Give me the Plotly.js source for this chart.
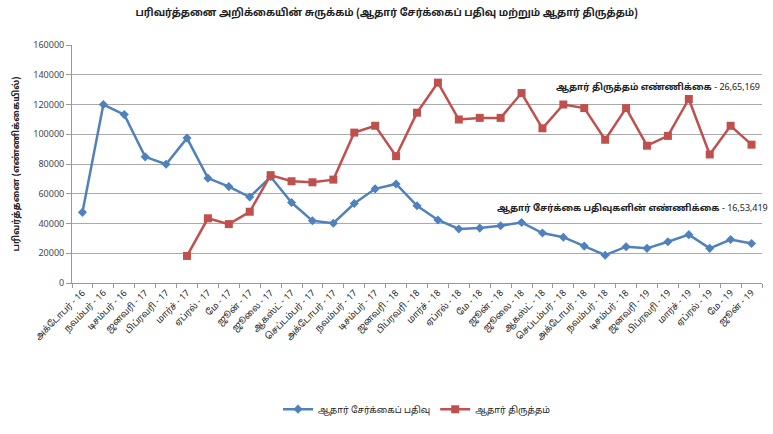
<!DOCTYPE html>
<html>
<head>
<meta charset="utf-8">
<script src="https://cdn.plot.ly/plotly-3.0.1.min.js"></script>
<style>html,body{margin:0;padding:0;background:#fff;}#chart{width:773px;height:434px;}</style>
</head>
<body>
<div id="chart"></div>
<script>
const months = [
  "அக்டோபர் - 16","நவம்பர் - 16","டிசம்பர் - 16","ஜனவரி - 17","பிப்ரவரி - 17","மார்ச் - 17",
  "ஏப்ரல் - 17","மே - 17","ஜூன் - 17","ஜூலை - 17","ஆகஸ்ட் - 17","செப்டம்பர் - 17",
  "அக்டோபர் - 17","நவம்பர் - 17","டிசம்பர் - 17","ஜனவரி - 18","பிப்ரவரி - 18","மார்ச் - 18",
  "ஏப்ரல் - 18","மே - 18","ஜூன் - 18","ஜூலை - 18","ஆகஸ்ட் - 18","செப்டம்பர் - 18",
  "அக்டோபர் - 18","நவம்பர் - 18","டிசம்பர் - 18","ஜனவரி - 19","பிப்ரவரி - 19","மார்ச் - 19",
  "ஏப்ரல் - 19","மே - 19","ஜூன் - 19"
];
const enrolment = [47500,120000,113200,84800,79800,97400,70500,64800,57800,71400,54100,41800,
  40200,53400,63300,66600,51900,42400,36300,36900,38500,40700,33600,30800,
  24800,18700,24400,23300,27700,32500,23300,29200,26600];
const updates = [null,null,null,null,null,18200,43500,39600,47900,72500,68400,67700,
  69500,101100,105700,85300,114500,134700,109900,111000,111000,127700,104000,120000,
  117600,96300,117600,92300,98900,123700,86400,105700,93000];
const seriesNames = ["ஆதார் சேர்க்கைப் பதிவு","ஆதார் திருத்தம்"];
const yTicks = [0,20000,40000,60000,80000,100000,120000,140000,160000];
const titleText = "பரிவர்த்தனை அறிக்கையின் சுருக்கம் (ஆதார் சேர்க்கைப் பதிவு மற்றும் ஆதார் திருத்தம்)";
const yTitle = "பரிவர்த்தனை (எண்ணிக்கையில்)";
const noteUpdates = "<b>ஆதார் திருத்தம் எண்ணிக்கை</b> - 26,65,169";
const noteEnrol = "<b>ஆதார் சேர்க்கை பதிவுகளின் எண்ணிக்கை</b> - 16,53,419";

const FONT = "'Noto Sans Tamil','Noto Sans','DejaVu Sans',sans-serif";
const data = [
  {x: months, y: enrolment, name: seriesNames[0], type: "scatter", mode: "lines+markers",
   line: {color: "#4F81BD", width: 2.5}, marker: {symbol: "diamond", size: 7, color: "#4F81BD"}},
  {x: months, y: updates, name: seriesNames[1], type: "scatter", mode: "lines+markers",
   line: {color: "#C0504D", width: 2.5}, marker: {symbol: "square", size: 8, color: "#C0504D"}}
];
const layout = {
  width: 773, height: 434,
  margin: {l: 72, r: 11, t: 45, b: 146},
  paper_bgcolor: "#fff", plot_bgcolor: "#fff",
  font: {family: FONT, color: "#333", size: 9},
  title: {text: "<b>" + titleText + "</b>", x: 0.5, xanchor: "center", y: 0.972, yanchor: "middle",
          font: {size: 10, color: "#222", family: FONT}},
  xaxis: {type: "category", tickangle: -45, tickson: "boundaries", ticks: "outside", ticklen: 4,
          tickcolor: "#999", showline: true, linecolor: "#999", linewidth: 1, showgrid: false,
          tickfont: {size: 9, color: "#222"}, automargin: false, range: [-0.5, 32.5]},
  yaxis: {range: [0, 160000], tickvals: yTicks, ticktext: yTicks.map(String), ticks: "outside", ticklen: 5,
          tickcolor: "#999", showline: true, linecolor: "#999", gridcolor: "#aaa", gridwidth: 1,
          zeroline: false, tickfont: {size: 9, color: "#444"}, automargin: false,
          title: {text: "<b>" + yTitle + "</b>", font: {size: 9, color: "#222"}, standoff: 12}},
  legend: {orientation: "h", x: 0.5, xanchor: "center", y: -0.53, yanchor: "middle",
           font: {size: 9, color: "#222"}},
  showlegend: true,
  annotations: [
    {xref: "paper", yref: "y", x: 1.0, y: 131700, xanchor: "right", yanchor: "middle", showarrow: false,
     text: noteUpdates, font: {size: 9, color: "#222"}},
    {xref: "paper", yref: "y", x: 1.012, y: 49900, xanchor: "right", yanchor: "middle", showarrow: false,
     text: noteEnrol, font: {size: 9, color: "#222"}}
  ]
};
Plotly.newPlot("chart", data, layout, {displayModeBar: false});
</script>
</body>
</html>
